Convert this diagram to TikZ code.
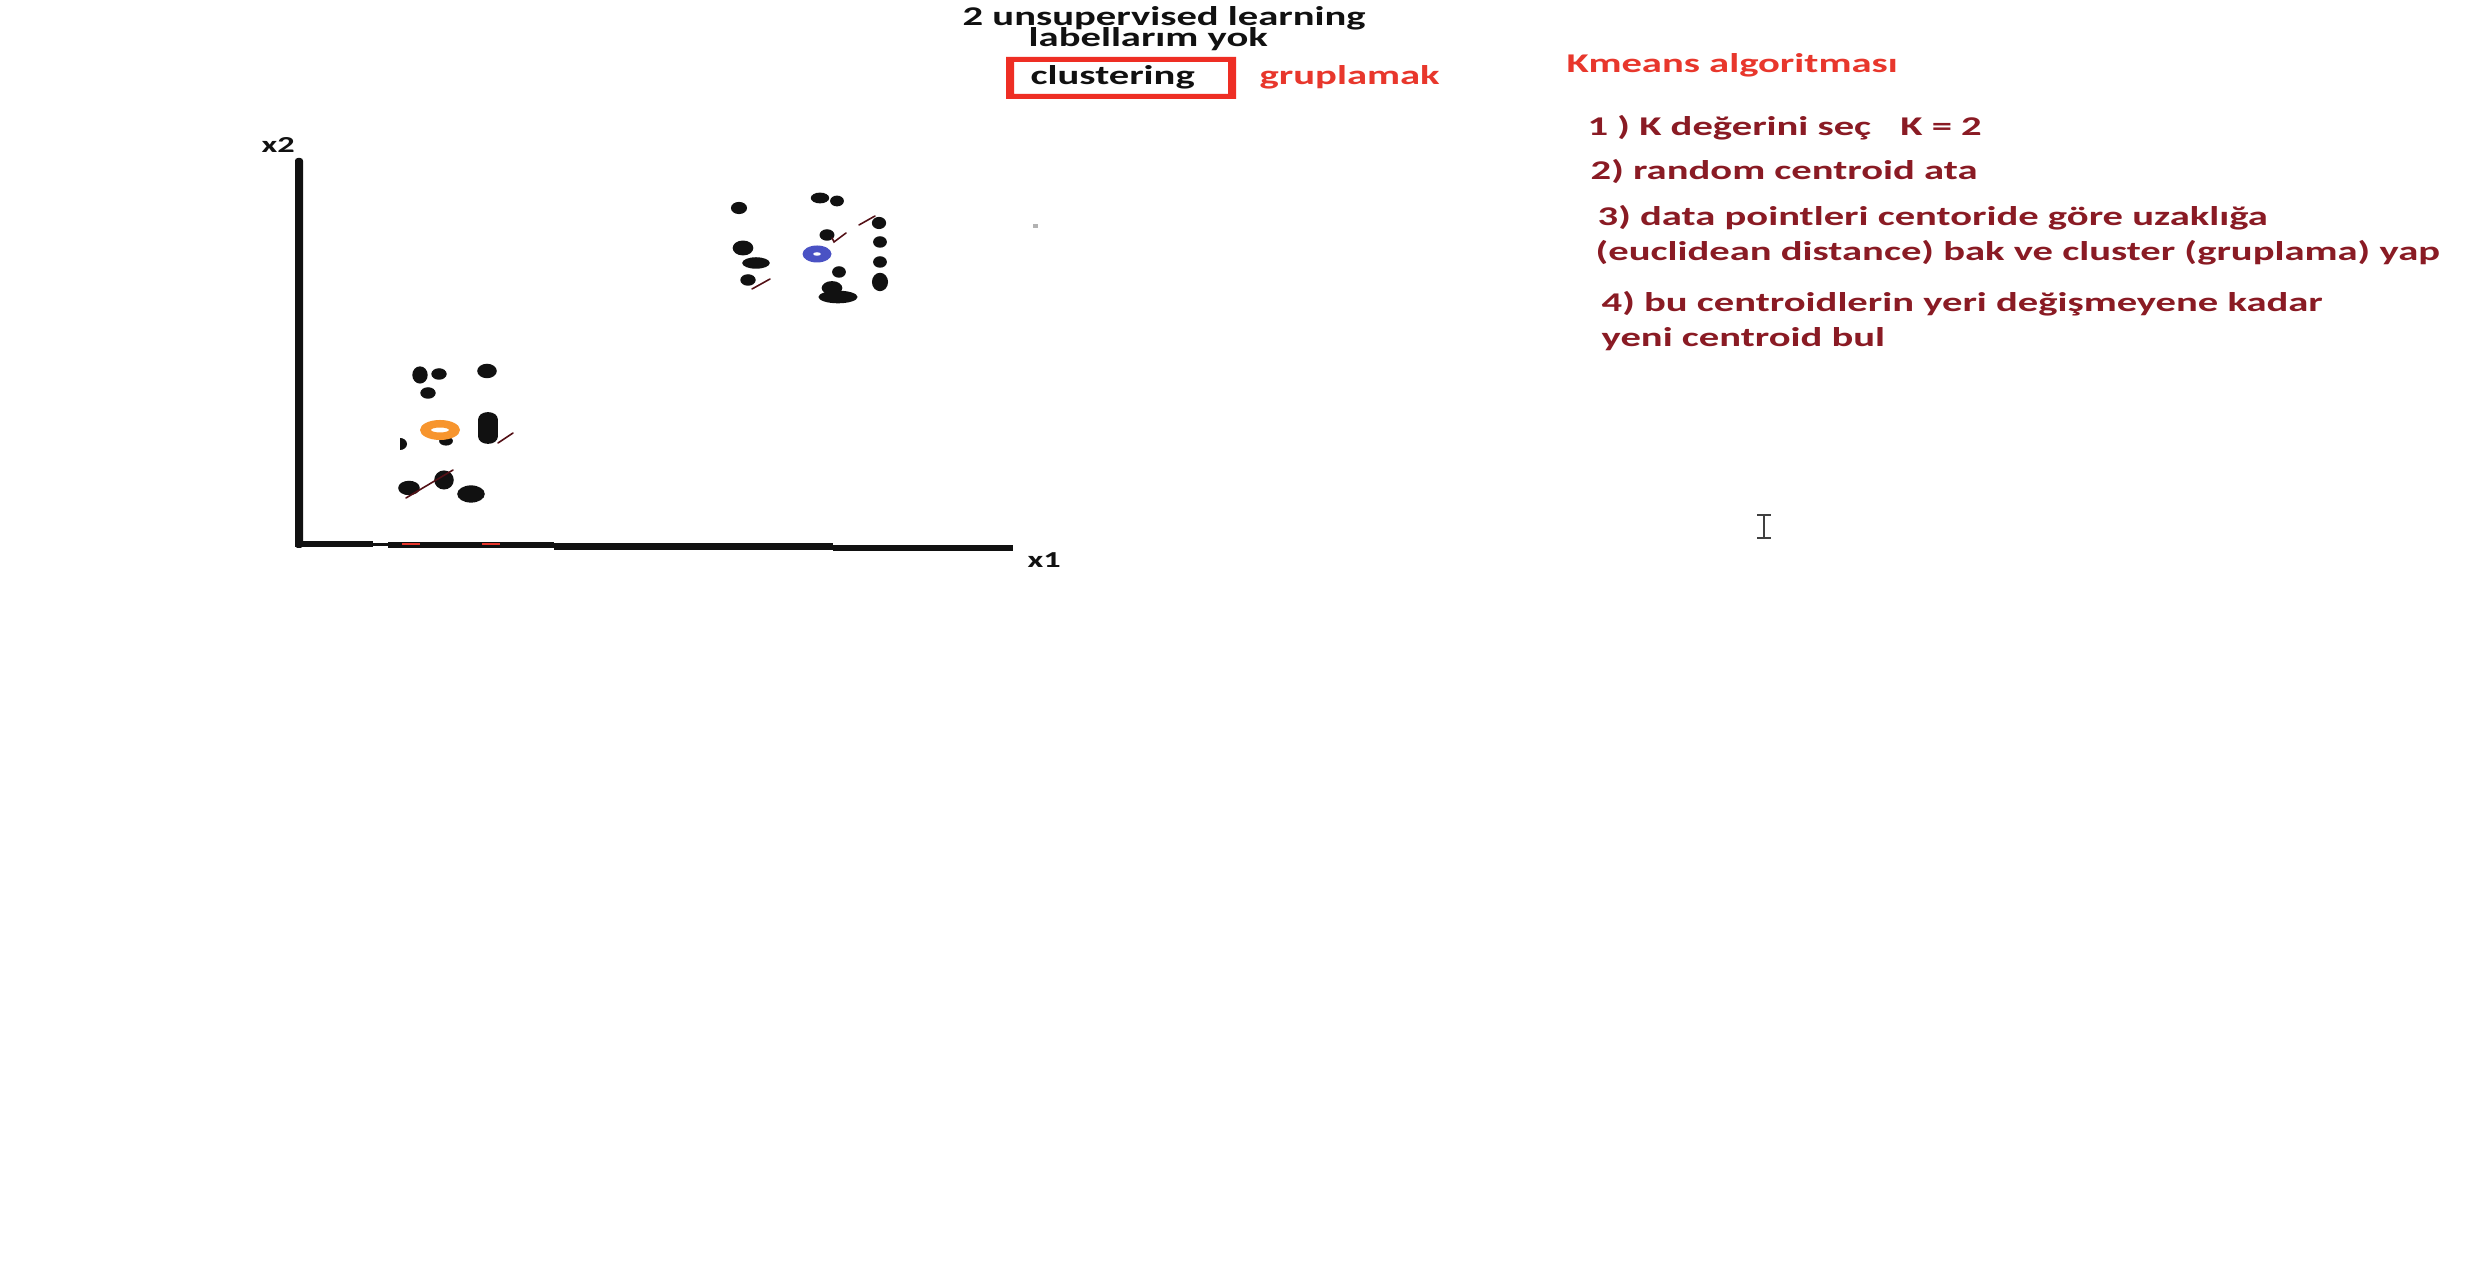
\documentclass[tikz,border=0pt]{standalone}
\usepackage{fontspec}
\usetikzlibrary{positioning}
\newfontfamily\slidefont{Carlito Bold}[FakeStretch=1.5]
\definecolor{kmRed}{HTML}{E8372C}
\definecolor{kmBox}{HTML}{EE2E24}
\definecolor{kmMaroon}{HTML}{8A1B24}
\definecolor{kmBlue}{HTML}{4A52C4}
\definecolor{kmOrange}{HTML}{F7952E}
\definecolor{kmInk}{HTML}{111111}

\begin{document}
\begin{tikzpicture}[
      x=0.01cm, y=-0.01cm,
      txt/.style={font=\slidefont\fontsize{7.7}{8}\selectfont, anchor=base west, inner sep=0pt},
      axlab/.style={font=\slidefont\fontsize{6.5}{7}\selectfont, anchor=base west, inner sep=0pt, text=kmInk},
      scratch/.style={draw=kmMaroon!60!black, line width=0.45pt, line cap=round}
    ]
      \useasboundingbox[fill=white] (0,0) rectangle (2481,1280);

      % heading
      \node[txt, text=kmInk] (unsup) at (962,26) {2 unsupervised learning};
      \node[txt, text=kmInk] (nolab) at (1028,47) {labellarım yok};
      \fill[kmBox, even odd rule] (1006,57) rectangle (1236,99) (1014,62) rectangle (1228,94);
      \node[txt, text=kmInk] (clus) at (1030,85) {clustering};
      \node[txt, text=kmRed] (grup) at (1259,85) {gruplamak};

      % steps
      \node[txt, text=kmRed] (kmeans) at (1566,73) {Kmeans algoritması};
      \node[txt, text=kmMaroon] (s1) at (1587,136) {1 ) K değerini seç\hspace{0.2cm} K = 2};
      \node[txt, text=kmMaroon] (s2) at (1590,180) {2) random centroid ata};
      \node[txt, text=kmMaroon] (s3a) at (1597,226) {3) data pointleri centoride göre uzaklığa};
      \node[txt, text=kmMaroon] (s3b) at (1595,261) {(euclidean distance) bak ve cluster (gruplama) yap};
      \node[txt, text=kmMaroon] (s4a) at (1601,312) {4) bu centroidlerin yeri değişmeyene kadar};
      \node[txt, text=kmMaroon] (s4b) at (1601,347) {yeni centroid bul};

      % axes
      \fill[kmInk, rounded corners=0.8pt] (295,158) rectangle (303,548);
      \fill[kmInk] (295,541) rectangle (373,547);
      \fill[kmInk] (373,543) rectangle (388,546);
      \fill[kmInk] (388,542) rectangle (554,548);
      \fill[kmInk] (554,543) rectangle (833,550);
      \fill[kmInk] (833,545) rectangle (1013,551);
      \fill[kmRed] (402,543) rectangle (420,545);
      \fill[kmRed] (482,543) rectangle (500,545);
      \node[axlab] (xtwo) at (261,153) {x2};
      \node[axlab] (xone) at (1027,568) {x1};

      % upper cluster
      \foreach \px/\py/\rx/\ry in {739/208/7/5.3, 820/198/8/4.7, 837/201/6/4.7,
          879/223/6.2/5.3, 827/235/6.5/5, 743/248/9/6.5, 756/263/12/5,
          748/280/6.7/5, 880/242/6/5, 880/262/6/5, 880/282/7/8,
          839/272/6/5, 832/288/9/6, 838/297/17/5.5} {
        \fill[kmInk] (\px,\py) ellipse [x radius={1.15*\rx}, y radius={1.15*\ry}];
      }
      \fill[kmBlue, even odd rule] (817,254) ellipse [x radius=14.5, y radius=8.5]
                                   (817,254) ellipse [x radius=4, y radius=1.8];
      \draw[scratch] (859,225) -- (875,216);
      \draw[scratch] (832,238) -- (834,242) -- (846,233);
      \draw[scratch] (752,289) -- (770,279);

      % lower cluster
      \foreach \px/\py/\rx/\ry in {420/375/6.7/7.5, 439/374/6.7/5, 487/371/8.5/6.3,
          428/393/6.7/5, 446/441/6/4, 409/488/9.4/6.3, 444/480/8.5/8.3,
          471/494/12/7.5, 488/419/8.5/6, 488/437/8.5/6} {
        \fill[kmInk] (\px,\py) ellipse [x radius={1.15*\rx}, y radius={1.15*\ry}];
      }
      \fill[kmInk] (478.3,419) rectangle (497.7,437);
      \begin{scope}
        \clip (400,430) rectangle (420,460);
        \fill[kmInk] (400,444) ellipse [x radius=7, y radius=6];
      \end{scope}
      \fill[kmOrange, even odd rule] (440,430) ellipse [x radius=20, y radius=10]
                                     (440,430) ellipse [x radius=9, y radius=2.5];
      \draw[scratch] (498,443) -- (513,433);
      \draw[scratch] (406,498) -- (453,470);

      % specks
      \fill[gray!60] (1033,224) rectangle (1038,228);
      \draw[black!75, line width=0.6pt] (1757,515) -- (1771,515) (1764,515) -- (1764,538)
                                        (1757,538) -- (1771,538);
    \end{tikzpicture}
\end{document}
